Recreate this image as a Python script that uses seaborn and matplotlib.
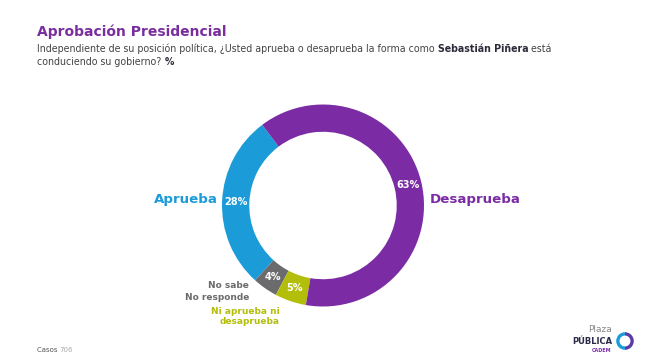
import matplotlib
matplotlib.use("Agg")
import matplotlib.pyplot as plt
import seaborn as sns
import numpy as np

# Datos
categorias = ["Aprueba", "No sabe / No responde", "Ni aprueba ni desaprueba", "Desaprueba"]
valores = [28, 4, 5, 63]
etiquetas_pct = ["28%", "4%", "5%", "63%"]
colores = ["#1b9bd8", "#6b6b6d", "#b3be0a", "#7b2ca5"]

sns.set_style("white")
plt.rcParams["font.family"] = ["DejaVu Sans"]

fig = plt.figure(figsize=(6.5, 3.63), dpi=100)
W, H = 650, 363
renderer = fig.canvas.get_renderer()

# Donut
cx, cy, R = 323, 205.5, 101
ax = fig.add_axes([(cx - R) / W, (H - cy - R) / H, 2 * R / W, 2 * R / H])
wedges, _ = ax.pie(valores, colors=colores, startangle=127, counterclock=True,
                   radius=1, wedgeprops=dict(width=0.27, linewidth=0))
ax.set_xlim(-1, 1)
ax.set_ylim(-1, 1)
ax.set_aspect("equal")
ax.axis("off")

for w, txt in zip(wedges, etiquetas_pct):
    ang = np.deg2rad((w.theta1 + w.theta2) / 2)
    r = 1 - 0.27 / 2
    ax.text(r * np.cos(ang), r * np.sin(ang), txt, ha="center", va="center",
            color="white", fontsize=7, fontweight="bold")

# Etiquetas de categorias
fig.text(218 / W, 1 - 200 / H, "Aprueba", ha="right", va="center",
         color=colores[0], fontsize=9.6, fontweight="bold")
fig.text(430 / W, 1 - 199 / H, "Desaprueba", ha="left", va="center",
         color=colores[3], fontsize=9.6, fontweight="bold")
fig.text(249 / W, 1 - 286 / H, "No sabe", ha="right", va="center",
         color=colores[1], fontsize=6.5, fontweight="bold")
fig.text(249 / W, 1 - 297 / H, "No responde", ha="right", va="center",
         color=colores[1], fontsize=6.5, fontweight="bold")
fig.text(280 / W, 1 - 311 / H, "Ni aprueba ni", ha="right", va="center",
         color=colores[2], fontsize=6.5, fontweight="bold")
fig.text(280 / W, 1 - 322 / H, "desaprueba", ha="right", va="center",
         color=colores[2], fontsize=6.5, fontweight="bold")

# Titulo y subtitulo
fig.text(37 / W, 1 - 36 / H, "Aprobación Presidencial", ha="left", va="baseline",
         color="#7a2e9e", fontsize=10, fontweight="bold")


def linea(partes, x0, y0, size):
    x = x0
    for txt, peso, color in partes:
        t = fig.text(x / W, 1 - y0 / H, txt, ha="left", va="baseline",
                     color=color, fontsize=size, fontweight=peso)
        x = t.get_window_extent(renderer).x1


linea([("Independiente de su posición política, ¿Usted aprueba o desaprueba la forma como ", "normal", "#444444"),
       ("Sebastián Piñera", "bold", "#2b2b3a"), (" está", "normal", "#444444")], 37, 52, 6.85)
linea([("conduciendo su gobierno? ", "normal", "#444444"), ("%", "bold", "#2b2b3a")], 37, 65, 6.85)

# Pie de pagina
linea([("Casos ", "normal", "#555555"), ("706", "normal", "#aaaaaa")], 37, 352, 5)

# Logo
fig.text(612 / W, 1 - 330 / H, "Plaza", ha="right", va="center", color="#888888", fontsize=6.5)
fig.text(612 / W, 1 - 341 / H, "PÚBLICA", ha="right", va="center", color="#2a2a4a",
         fontsize=6, fontweight="bold")
fig.text(611 / W, 1 - 350 / H, "CADEM", ha="right", va="center", color="#7b2ca5",
         fontsize=3.5, fontweight="bold")
lax = fig.add_axes([614 / W, (H - 352) / H, 22 / W, 22 / H])
lax.pie([1, 1], colors=["#1b9bd8", "#5a3aa5"], startangle=90,
        wedgeprops=dict(width=0.38, linewidth=0))
lax.set_aspect("equal")
lax.axis("off")

fig.savefig("out.png", dpi=100)
